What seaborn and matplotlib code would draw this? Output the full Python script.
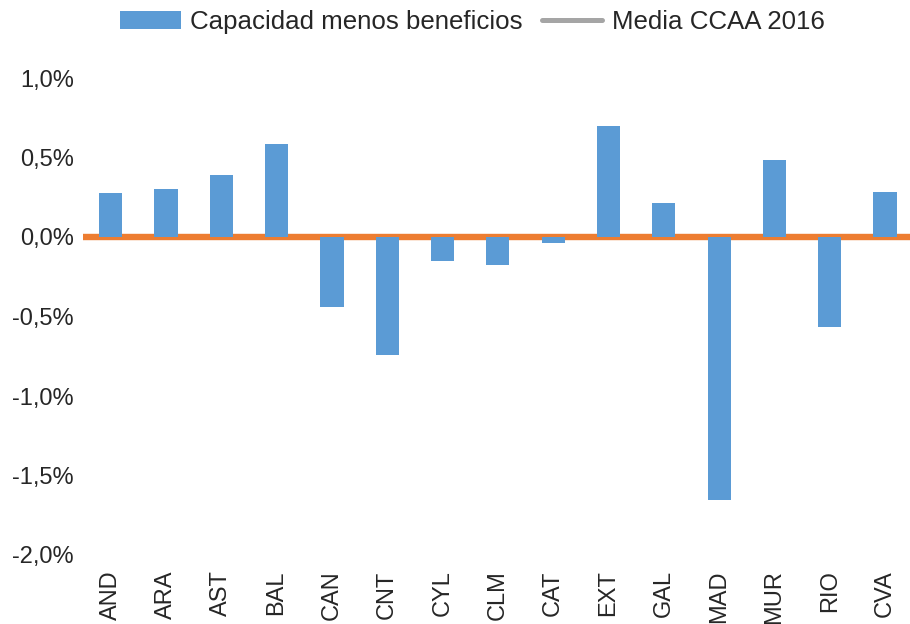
import numpy as np
import pandas as pd
import seaborn as sns
import matplotlib.pyplot as plt
from matplotlib.patches import Patch
from matplotlib.lines import Line2D
from matplotlib.ticker import FuncFormatter, MultipleLocator

# datos (en %)
ccaa = ['AND', 'ARA', 'AST', 'BAL', 'CAN', 'CNT', 'CYL', 'CLM', 'CAT',
        'EXT', 'GAL', 'MAD', 'MUR', 'RIO', 'CVA']
capacidad_menos_beneficios = [0.274, 0.305, 0.393, 0.588, -0.443, -0.745, -0.148,
                              -0.177, -0.035, 0.701, 0.211, -1.657, 0.487, -0.563, 0.280]
media_ccaa_2016 = 0.0

azul = '#5B9BD5'
naranja = '#ED7D31'
gris = '#A5A5A5'

sns.set_style('white')
plt.rcParams['font.family'] = ['Liberation Sans', 'DejaVu Sans']

df = pd.DataFrame({'ccaa': ccaa, 'valor': capacidad_menos_beneficios})

fig = plt.figure(figsize=(9.1, 6.24), dpi=100)
ax = fig.add_axes([83 / 910, 1 - 555 / 624, 1 - 83 / 910, 477 / 624])

# linea de la media, por debajo de las barras
ax.axhline(media_ccaa_2016, color=naranja, lw=4.6, zorder=1)
sns.barplot(data=df, x='ccaa', y='valor', color=azul, width=0.42,
            saturation=1, linewidth=0, edgecolor='none', ax=ax, zorder=2)

ax.set_ylim(-2.0, 1.0)
ax.set_xlim(-0.5, len(ccaa) - 0.55)
ax.yaxis.set_major_locator(MultipleLocator(0.5))
ax.yaxis.set_major_formatter(FuncFormatter(lambda v, p: f'{v:.1f}%'.replace('.', ',')))
ax.set_xlabel('')
ax.set_ylabel('')
for s in ax.spines.values():
    s.set_visible(False)
ax.tick_params(axis='y', length=0, pad=6.5, labelsize=17)
ax.tick_params(axis='x', length=0, pad=11, labelsize=17, rotation=90)

handles = [Patch(facecolor=azul, edgecolor='none'),
           Line2D([0], [0], color=gris, lw=3.6)]
fig.legend(handles, ['Capacidad menos beneficios', 'Media CCAA 2016'],
           loc='center', bbox_to_anchor=(0.519, 0.965), ncol=2, frameon=False,
           fontsize=18.6, handlelength=2.35, handleheight=0.7, handletextpad=0.35,
           columnspacing=0.75)

fig.savefig('out.png', dpi=100)
